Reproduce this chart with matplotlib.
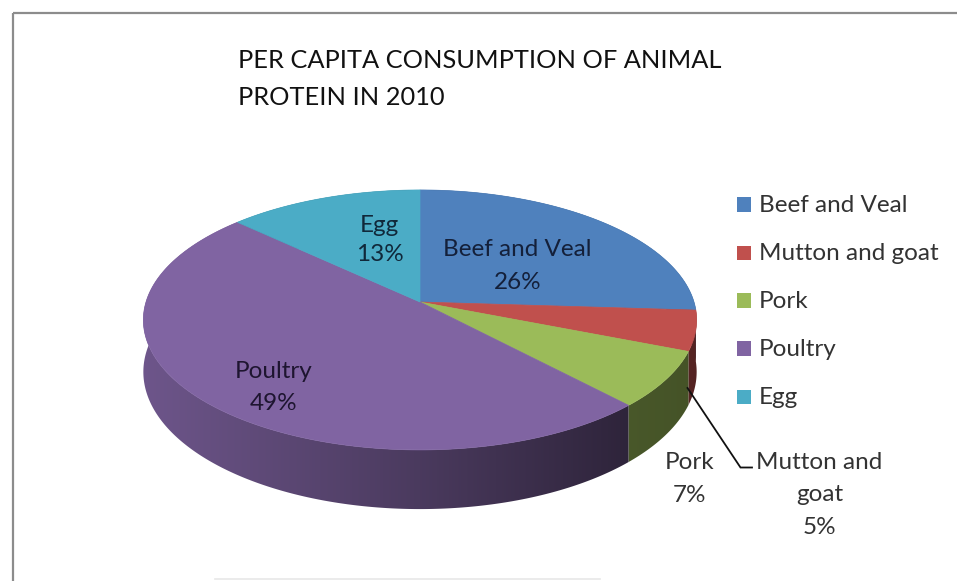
import numpy as np
import matplotlib
matplotlib.use("Agg")
import matplotlib.pyplot as plt
from matplotlib.patches import Polygon, Rectangle
from matplotlib.colors import to_rgb

# ---------------- data ----------------
categories = ['Beef and Veal', 'Mutton and goat', 'Pork', 'Poultry', 'Egg']
values = [26, 5, 7, 49, 13]
title_lines = ['PER CAPITA CONSUMPTION OF ANIMAL', 'PROTEIN IN 2010']

# ---------------- style ----------------
colors = ['#4F81BD', '#C0504D', '#9BBB59', '#8064A2', '#4BACC6']
FONT = ['Lato', 'DejaVu Sans']

W, H = 957, 581
fig = plt.figure(figsize=(W / 100, H / 100), dpi=100)
ax = fig.add_axes([0, 0, 1, 1])
ax.set_xlim(0, W)
ax.set_ylim(H, 0)
ax.axis('off')

# perspective projection of the pie disc (pixel space)
cx, cy = 420.0, 302.0
a, b, k, D = 274.0, 127.5, 0.138, 51.0


def proj(theta_deg, h=0.0):
    t = np.radians(theta_deg)
    u, v = np.sin(t), np.cos(t)
    den = 1 + k * v
    return cx + a * u / den, cy - b * v / den + D * h / den


total = float(sum(values))
bounds = np.concatenate([[0], np.cumsum(values)]) / total * 360.0

xs = np.arange(W) + 0.5


def side_factor_x(i):
    if categories[i] == 'Poultry':
        return np.interp(xs, [140, 420, 630], [0.86, 0.58, 0.36])
    return np.interp(xs, [600, 700], [0.48, 0.44])


# ---- side walls: gradient images clipped to each slice's wall ----
order = sorted(range(len(values)),
               key=lambda i: -np.cos(np.radians(0.5 * (bounds[i] + bounds[i + 1]))))
for i in order:
    t0, t1 = bounds[i], bounds[i + 1]
    ts = np.linspace(t0, t1, max(4, int((t1 - t0) * 2)))
    top = [proj(t) for t in ts]
    bot = [proj(t, 1) for t in ts[::-1]]
    poly = Polygon(top + bot, closed=True, facecolor='none', edgecolor='none')
    ax.add_patch(poly)
    f = side_factor_x(i)
    base = np.array(to_rgb(colors[i]))
    img = (f[:, None] * base[None, :])[None, :, :]
    im = ax.imshow(img, extent=(0, W, H, 0), aspect='auto', interpolation='bilinear',
                   zorder=1)
    im.set_clip_path(poly)

# ---- top faces ----
for i in range(len(values)):
    t0, t1 = bounds[i], bounds[i + 1]
    ts = np.linspace(t0, t1, max(3, int((t1 - t0) * 2)))
    pts = [(cx, cy)] + [proj(t) for t in ts]
    ax.add_patch(Polygon(pts, closed=True, facecolor=colors[i], edgecolor=colors[i],
                         lw=0.5, zorder=2))


# ---------------- text helpers ----------------
def fit_size(text, target_w, base=20):
    t = ax.text(0, 0, text, fontsize=base, family=FONT)
    fig.canvas.draw()
    w = t.get_window_extent(renderer=fig.canvas.get_renderer()).width
    t.remove()
    return base * target_w / w


label_fs = fit_size('Beef and Veal', 149)
title_fs = fit_size(title_lines[0], 482)

# title
for line, yb in zip(title_lines, [68.5, 105]):
    ax.text(238, yb, line, fontsize=title_fs, family=FONT, color='#111111',
            ha='left', va='baseline', zorder=5)

# data labels: (lines, x centre, baselines, colour)
pct = [f'{round(v / total * 100):d}%' for v in values]
label_specs = {
    'Beef and Veal': (['Beef and Veal', pct[0]], 517.5, [256.5, 289], '#14203a'),
    'Mutton and goat': (['Mutton and', 'goat', pct[1]], 819.5, [469, 501, 534], '#333333'),
    'Pork': (['Pork', pct[2]], 689.5, [469, 501.5], '#333333'),
    'Poultry': (['Poultry', pct[3]], 274, [377.5, 410], '#1e1530'),
    'Egg': (['Egg', pct[4]], 379.5, [232.5, 261], '#10283a'),
}
for cat in categories:
    lines, x, ybs, col = label_specs[cat]
    for s, yb in zip(lines, ybs):
        ax.text(x, yb, s, fontsize=label_fs, family=FONT, color=col,
                ha='center', va='baseline', zorder=5)

# leader line for mutton label
ax.plot([687.5, 740.5, 752], [388, 467.5, 467.5], color='#111111', lw=1.3,
        solid_joinstyle='miter', zorder=4)

# legend
leg_base = [211.7, 260, 307.7, 355.7, 404.3]
for cat, col, yb in zip(categories, colors, leg_base):
    ax.add_patch(Rectangle((736.5, yb - 14.5), 14.5, 14.5, facecolor=col,
                           edgecolor='none', zorder=5))
    ax.text(759, yb, cat, fontsize=label_fs, family=FONT, color='#333333',
            ha='left', va='baseline', zorder=5)

# chart border
ax.plot([12.5, W + 5], [12.5, 12.5], color='#8c8c8c', lw=1.6, solid_capstyle='butt')
ax.plot([12.5, 12.5], [12.5, H + 5], color='#8c8c8c', lw=1.6, solid_capstyle='butt')
ax.plot([215, 600], [578.5, 578.5], color='#e8e8e8', lw=1.2)

ax.set_xlim(0, W)
ax.set_ylim(H, 0)
fig.savefig('out.png', dpi=100)
